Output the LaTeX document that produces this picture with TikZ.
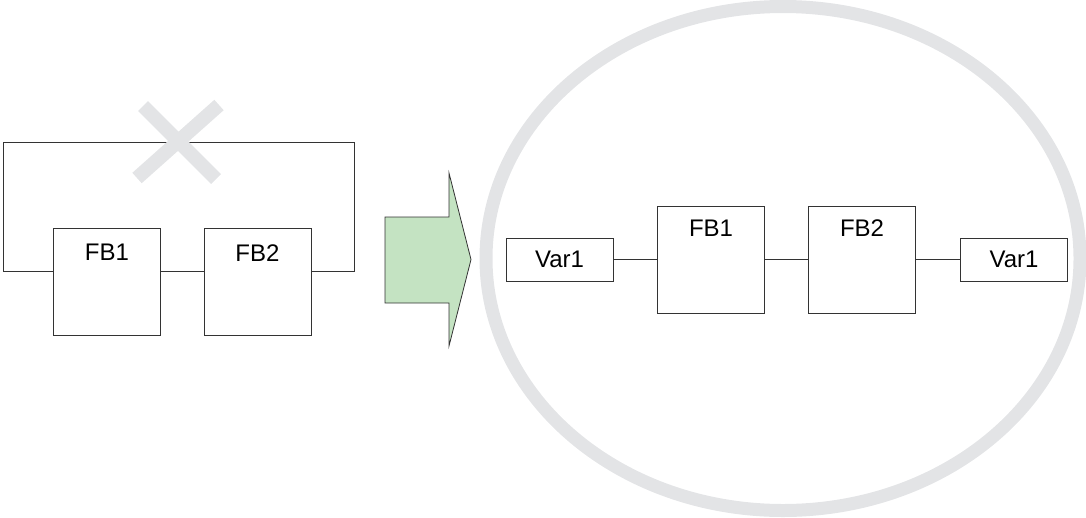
\documentclass[tikz,border=0pt]{standalone}
\usepackage{fontspec}
\setmainfont{Liberation Sans}
\usepackage{tikz}
\usetikzlibrary{calc,positioning}
\definecolor{linecol}{RGB}{51,51,51}
\definecolor{greycol}{RGB}{227,228,230}
\definecolor{arrowcol}{RGB}{196,227,194}
\tikzset{
  fbbox/.style={draw=linecol, line width=0.9pt, minimum width=107pt, minimum height=107pt, inner sep=0pt},
  varbox/.style={draw=linecol, line width=0.9pt, minimum width=107pt, minimum height=43pt, inner sep=0pt, font=\fontsize{24}{28}\selectfont},
  fblabel/.style={anchor=north, inner sep=0pt, font=\fontsize{24}{28}\selectfont},
  wire/.style={draw=linecol, line width=0.9pt}
}

\begin{document}
\begin{tikzpicture}[x=1pt,y=-1pt]
  \useasboundingbox (0,0) rectangle (1086,517);
  % left: loop between FB1 and FB2
  \node[fbbox] (fbA) at (107,282) {};
  \node[fbbox] (fbB) at (257.5,282) {};
  \node[fblabel] (fbAt) at ([yshift=-16pt]fbA.north) {FB1};
  \node[fblabel] (fbBt) at ([yshift=-16pt]fbB.north) {FB2};
  \coordinate (loopL) at (3,142);
  \coordinate (loopR) at (354,142);
  \draw[wire] ([yshift=-43pt]fbA.north east) -- ([yshift=-43pt]fbB.north west);
  \draw[wire] ([yshift=-43pt]fbA.north west) -| (loopL) -- (loopR) |- ([yshift=-43pt]fbB.north east);
  % crossed out
  \draw[greycol, line width=14pt] (143,106) -- (216,179);
  \draw[greycol, line width=14pt] (219,105) -- (137,178);
  % green arrow
  \draw[linecol, line width=0.8pt, fill=arrowcol]
    (385,217) -- (449,217) -- (449,173) -- (471,259.5) -- (449,346) -- (449,303) -- (385,303) -- cycle;
  % right: ellipse
  \draw[greycol, line width=13pt] (783,258.5) ellipse (297 and 252);
  \node[varbox] (varA) at (559.5,259.5) {Var1};
  \node[fbbox] (fbC) at (711,259.5) {};
  \node[fbbox] (fbD) at (862,259.5) {};
  \node[varbox] (varB) at (1014,259.5) {Var1};
  \node[fblabel] (fbCt) at ([yshift=-14pt]fbC.north) {FB1};
  \node[fblabel] (fbDt) at ([yshift=-14pt]fbD.north) {FB2};
  \draw[wire] (varA) -- (fbC);
  \draw[wire] (fbC) -- (fbD);
  \draw[wire] (fbD) -- (varB);
\end{tikzpicture}
\end{document}
